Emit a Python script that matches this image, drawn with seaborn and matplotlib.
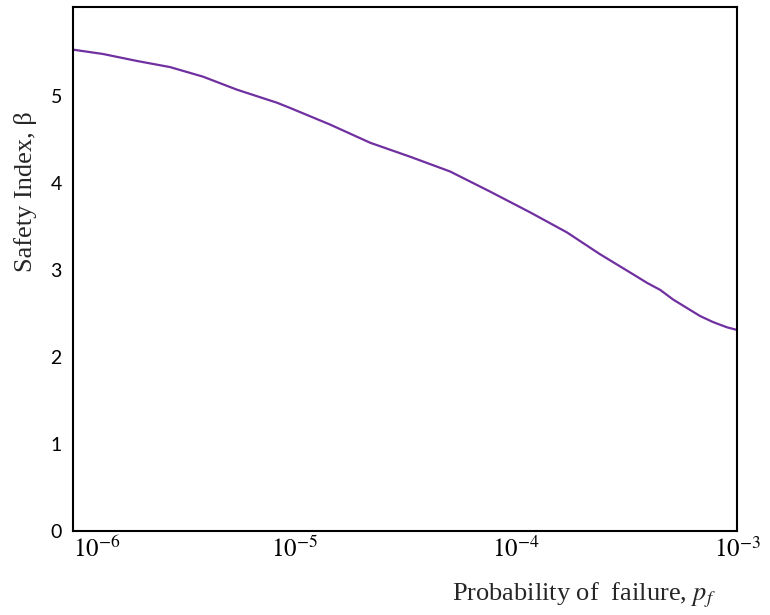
import numpy as np
import pandas as pd
import matplotlib
matplotlib.use('Agg')
import matplotlib.pyplot as plt
import seaborn as sns

# values (log10 of pf, safety index beta)
log_pf = [-6.0, -5.864, -5.711, -5.562, -5.413, -5.259, -5.078, -5.019,
          -4.839, -4.657, -4.477, -4.296, -4.116, -3.934, -3.768,
          -3.619, -3.470, -3.406, -3.347, -3.289, -3.225, -3.167, -3.108,
          -3.045, -3.0]
beta = [5.53, 5.48, 5.40, 5.33, 5.22, 5.07, 4.92, 4.86,
        4.67, 4.46, 4.30, 4.13, 3.90, 3.66, 3.43,
        3.18, 2.95, 2.85, 2.77, 2.66, 2.56, 2.47, 2.40,
        2.34, 2.31]

y_ticks = [0, 1, 2, 3, 4, 5]
x_ticks = [1e-6, 1e-5, 1e-4, 1e-3]
x_tick_labels = [r'$10^{-6}$', r'$10^{-5}$', r'$10^{-4}$', r'$10^{-3}$']

df = pd.DataFrame({'pf': 10.0 ** np.array(log_pf), 'beta': beta})

sns.set_style('white')
plt.rcParams['mathtext.fontset'] = 'stix'

fig = plt.figure(figsize=(7.7, 6.15), dpi=100)
ax = fig.add_axes([73 / 770, 1 - 531 / 615, 664 / 770, 524 / 615])

sns.lineplot(data=df, x='pf', y='beta', color='#7030A0', linewidth=1.6, ax=ax)

ax.set_xscale('log')
ax.set_xlim(1e-6, 1e-3)
ax.set_ylim(0, 6.02)
ax.minorticks_off()

ax.set_xticks(x_ticks)
ax.set_xticklabels(x_tick_labels, fontsize=18)
ax.set_yticks(y_ticks)
ax.set_yticklabels([str(v) for v in y_ticks], fontsize=14, family='Lato')

ax.tick_params(axis='y', direction='in', length=15, width=1.5, pad=8, colors='black')
ax.tick_params(axis='x', direction='in', length=9.5, width=1.3, pad=4, colors='black')
labels = ax.get_xticklabels()
labels[0].set_horizontalalignment('left')

for s in ax.spines.values():
    s.set_visible(True)
    s.set_color('black')
    s.set_linewidth(1.5)

ax.set_xlabel(r'Probability of  failure, $p_f$', fontsize=19, family='Liberation Serif')
ax.xaxis.set_label_coords(0.77, -0.095)
ax.set_ylabel('Safety Index, β', fontsize=19, family='Liberation Serif')
ax.yaxis.set_label_coords(-0.054, 0.647)

fig.savefig('out.png', dpi=100)
